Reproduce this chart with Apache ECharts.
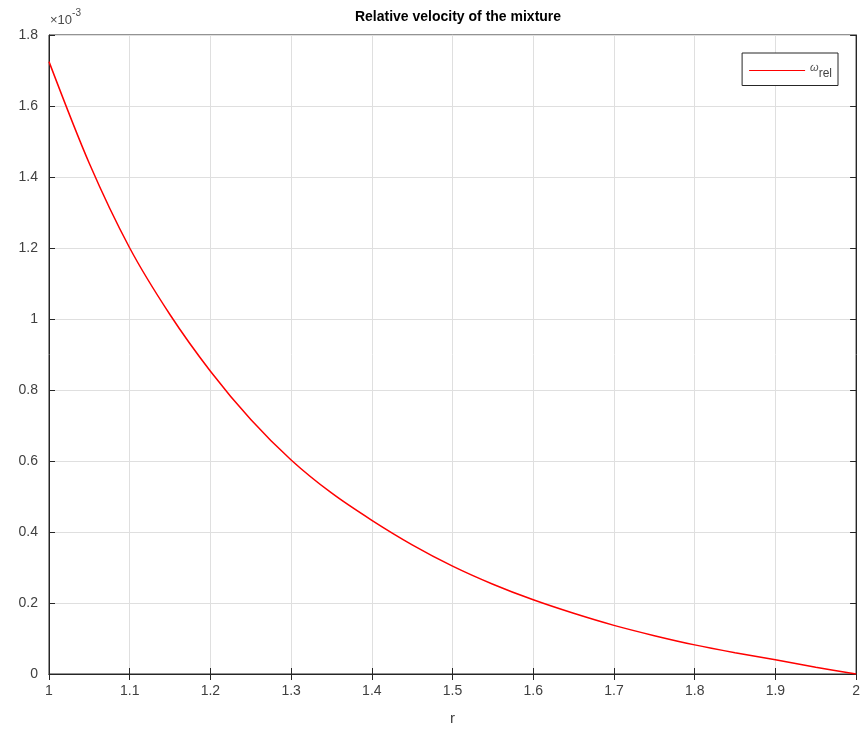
<!DOCTYPE html>
<html><head><meta charset="utf-8">
<script src="https://cdn.jsdelivr.net/npm/echarts@6/dist/echarts.min.js"></script>
<style>html,body{margin:0;padding:0;background:#fff}#c{width:863px;height:738px}</style>
</head><body><div id="c"></div>
<script>
// r values
const rValues = [1.00,1.05,1.10,1.15,1.20,1.25,1.30,1.35,1.40,1.45,1.50,1.55,1.60,1.65,1.70,1.75,1.80,1.85,1.90,1.95,2.00];
// omega_rel in units of 1e-3
const omegaRel = [1.725,1.438,1.200,1.012,0.853,0.717,0.603,0.510,0.433,0.364,0.304,0.253,0.209,0.171,0.137,0.108,0.082,0.060,0.040,0.019,0.000];
const yTicks = [0,0.2,0.4,0.6,0.8,1,1.2,1.4,1.6,1.8];
const titleText = 'Relative velocity of the mixture';
const xName = 'r';

const textCol = '#262626';
const font = 'Liberation Sans, Arial, Helvetica, sans-serif';
const chart = echarts.init(document.getElementById('c'));
const L = 49, T = 35, R = 857, B = 674;
chart.setOption({
  animation: false,
  backgroundColor: '#fff',
  title: {
    text: titleText, left: (L + R) / 2, top: 5, textAlign: 'center',
    textStyle: {fontFamily: font, fontSize: 14, fontWeight: 'bold', color: '#000'}
  },
  graphic: [{
    type: 'text', left: 50, top: 8,
    style: {
      text: '{a|×10}{b|-3}',
      rich: {
        a: {fontFamily: font, fontSize: 13, fill: '#4a4a4a', verticalAlign: 'bottom', padding: [6,0,0,0]},
        b: {fontFamily: font, fontSize: 10, fill: '#4a4a4a', verticalAlign: 'top', padding: [0,0,6,0]}
      }
    }
  }],
  legend: {
    right: 863 - 838, top: 53,
    orient: 'vertical',
    backgroundColor: '#fff',
    borderColor: '#262626', borderWidth: 1, borderRadius: 0,
    padding: [9, 6, 6, 7],
    itemWidth: 56, itemHeight: 10, itemGap: 4,
    data: [{name: 'omega', icon: 'path://M0,4.5 L56,4.5 L56,5.5 L0,5.5 Z'}],
    formatter: () => '{a|ω}{b|rel}',
    textStyle: {
      fontFamily: font, color: textCol,
      rich: {
        a: {fontSize: 11, fontStyle: 'italic', color: '#555', padding: [0,0,6,0]},
        b: {fontSize: 12, color: '#444', padding: [6,0,0,0]}
      }
    }
  },
  grid: {left: L, top: T, right: 863 - R, bottom: 738 - B, show: true, borderColor: '#262626', borderWidth: 1, containLabel: false},
  xAxis: [{
    type: 'value', min: 1, max: 2, interval: 0.1,
    name: xName, nameLocation: 'middle', nameGap: 37,
    nameTextStyle: {fontFamily: font, fontSize: 15, color: '#404040'},
    axisLine: {show: true, onZero: false, lineStyle: {color: '#262626', width: 1}},
    axisTick: {show: true, inside: true, length: 6, lineStyle: {color: '#262626'}},
    axisLabel: {fontFamily: font, fontSize: 14, color: '#404040', margin: 10},
    splitLine: {show: true, lineStyle: {color: '#dfdfdf', width: 1}}
  }, {
    type: 'value', position: 'top', min: 1, max: 2, interval: 0.1,
    axisLine: {show: true, lineStyle: {color: '#262626'}},
    axisTick: {show: true, inside: true, length: 6, lineStyle: {color: '#262626'}},
    axisLabel: {show: false}, splitLine: {show: false}
  }],
  yAxis: [{
    type: 'value', min: yTicks[0], max: yTicks[yTicks.length - 1], interval: 0.2,
    axisLine: {show: true, onZero: false, lineStyle: {color: '#262626', width: 1}},
    axisTick: {show: true, inside: true, length: 6, lineStyle: {color: '#262626'}},
    axisLabel: {fontFamily: font, fontSize: 14, color: '#404040', margin: 11},
    splitLine: {show: true, lineStyle: {color: '#dfdfdf', width: 1}}
  }, {
    type: 'value', position: 'right', min: 0, max: 1.8, interval: 0.2,
    axisLine: {show: true, lineStyle: {color: '#262626'}},
    axisTick: {show: true, inside: true, length: 6, lineStyle: {color: '#262626'}},
    axisLabel: {show: false}, splitLine: {show: false}
  }],
  series: [{
    name: 'omega', type: 'line', smooth: 0.3,
    symbol: 'none', showSymbol: false,
    lineStyle: {color: '#ff0000', width: 1.5},
    itemStyle: {color: '#ff0000'},
    data: rValues.map((r, i) => [r, omegaRel[i]])
  }]
});
</script></body></html>
